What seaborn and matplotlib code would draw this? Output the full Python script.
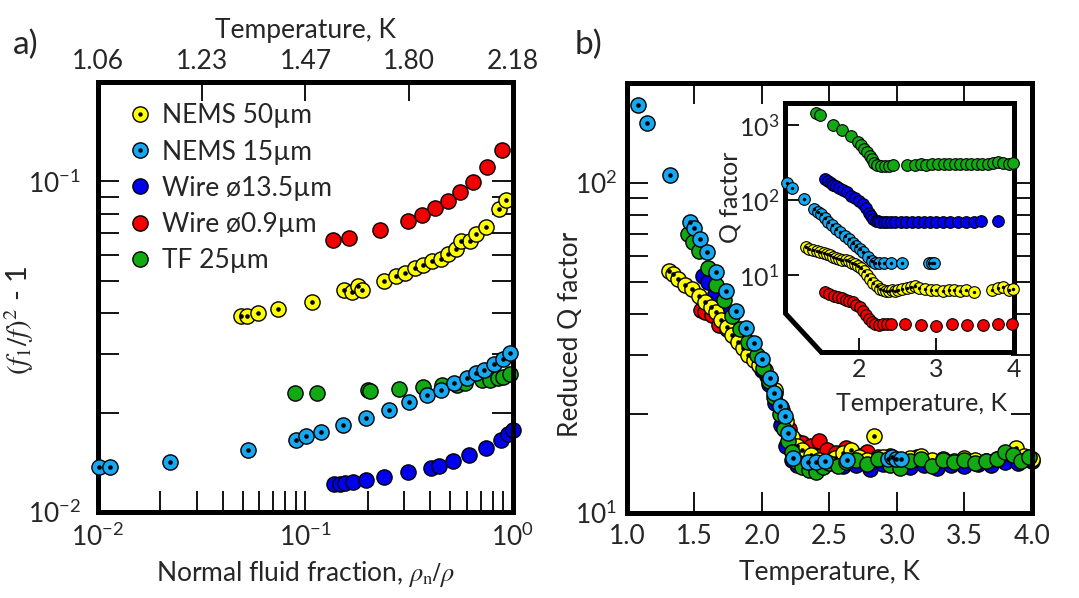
import matplotlib.pyplot as plt
import seaborn as sns
from matplotlib.lines import Line2D
from matplotlib.patches import Polygon
from matplotlib.ticker import LogLocator, NullFormatter, NullLocator, FixedLocator

# ---- panel a: (f1/f)^2 - 1 vs normal fluid fraction ----
a_n50_x = [0.049, 0.052, 0.059, 0.074, 0.107, 0.153, 0.167, 0.179, 0.187, 0.239, 0.273, 0.302,
           0.337, 0.367, 0.406, 0.448, 0.484, 0.529, 0.562, 0.621, 0.663, 0.741, 0.856, 0.925]
a_n50_y = [0.0392, 0.0392, 0.0400, 0.0411, 0.0432, 0.0471, 0.0464, 0.0484, 0.0470, 0.0500, 0.0519, 0.0529,
           0.0547, 0.0557, 0.0573, 0.0581, 0.0604, 0.0623, 0.0659, 0.0659, 0.0692, 0.0728, 0.0828, 0.0877]
a_n15_x = [0.0101, 0.0114, 0.0222, 0.0528, 0.0903, 0.1002, 0.1188, 0.152, 0.196, 0.253, 0.314, 0.385,
           0.448, 0.520, 0.600, 0.663, 0.727, 0.807, 0.898, 0.967]
a_n15_y = [0.01364, 0.0137, 0.01412, 0.01536, 0.01655, 0.01694, 0.01742, 0.01834, 0.01927, 0.02042, 0.02149,
           0.02252, 0.02337, 0.0246, 0.0255, 0.0264, 0.0269, 0.0280, 0.0291, 0.0302]
a_w135_x = [0.1376, 0.1466, 0.155, 0.170, 0.195, 0.238, 0.311, 0.403, 0.441, 0.516, 0.615, 0.741, 0.875, 0.949, 0.995]
a_w135_y = [0.01214, 0.01219, 0.01228, 0.01236, 0.01251, 0.01277, 0.01317, 0.01358, 0.0138, 0.01429, 0.01487,
            0.01562, 0.01655, 0.01722, 0.01775]
a_w09_x = [0.135, 0.162, 0.229, 0.313, 0.364, 0.421, 0.484, 0.556, 0.641, 0.746, 0.881]
a_w09_y = [0.0663, 0.0673, 0.0714, 0.0759, 0.0793, 0.0830, 0.0871, 0.0928, 0.0995, 0.111, 0.1245]
a_tf_x = [0.0890, 0.1132, 0.2008, 0.205, 0.283, 0.367, 0.453, 0.535, 0.587, 0.707, 0.775, 0.850, 0.898, 0.967]
a_tf_y = [0.02284, 0.02295, 0.02332, 0.0233, 0.02349, 0.02393, 0.02415, 0.0243, 0.0245, 0.02506, 0.02506,
          0.0255, 0.02567, 0.02609]

top_fraction = [0.01, 0.0316, 0.1, 0.316, 1.0]
top_temps = ['1.06', '1.23', '1.47', '1.80', '2.18']

# ---- panel b: reduced Q factor vs temperature ----
b_n15_t = [1.08, 1.15, 1.32, 1.47, 1.50, 1.54, 1.59, 1.66, 1.73, 1.81, 1.88, 1.94, 2.00, 2.06, 2.09, 2.13,
           2.17, 2.19, 2.23, 2.34, 2.40, 2.47, 2.63, 2.93, 2.96, 2.99, 3.03]
b_n15_q = [171, 151, 105, 76, 73, 67.5, 61.5, 53.6, 47.1, 40.9, 36.4, 32.6, 29.2, 25.6, 23.1, 21.1,
           19.6, 17.5, 14.7, 14.3, 14.3, 14.4, 14.5, 14.6, 14.8, 14.6, 14.6]
b_n50_t = [1.31, 1.34, 1.38, 1.43, 1.48, 1.53, 1.58, 1.62, 1.66, 1.70, 1.74, 1.78, 1.82, 1.86, 1.90, 1.94,
           1.98, 2.02, 2.06, 2.10, 2.14, 2.18, 2.22, 2.26, 2.30, 2.36, 2.42, 2.48, 2.54, 2.60, 2.66, 2.72,
           2.78, 2.83, 2.90, 2.96, 3.02, 3.10, 3.18, 3.26, 3.34, 3.42, 3.50, 3.58, 3.66, 3.74, 3.82, 3.88,
           3.94, 4.00]
b_n50_q = [54, 53, 51, 49, 47.5, 45.5, 43.5, 42, 40.5, 38.5, 36.5, 34.5, 33, 31.5, 30, 29,
           28, 27, 25.5, 23.5, 21, 19, 17, 16, 15.5, 15, 14.5, 14.3, 14.7, 15.2, 15.5, 14.8,
           14.5, 17.1, 14.8, 14.5, 14.4, 14.7, 14.9, 14.5, 14.6, 14.4, 14.7, 14.5, 14.4, 14.6, 15.2, 15.7,
           14.9, 14.6]
b_tf_t = [1.45, 1.49, 1.53, 1.60, 1.66, 1.72, 1.78, 1.84, 1.90, 1.96, 2.01, 2.05, 2.09, 2.13, 2.16, 2.19,
          2.22, 2.26, 2.30, 2.35, 2.40, 2.45, 2.50, 2.56, 2.62, 2.70, 2.78, 2.86, 2.95, 3.02, 3.10, 3.18,
          3.26, 3.34, 3.42, 3.50, 3.58, 3.66, 3.74, 3.80, 3.86, 3.92, 3.98]
b_tf_q = [70, 66, 62, 55, 49, 44, 39.5, 36, 33, 30, 27.5, 25, 22.5, 20, 18, 16.5,
          15.3, 14.3, 13.8, 13.5, 13.3, 13.8, 14.2, 13.9, 14.3, 14.5, 14.1, 14.6, 14.0, 13.7, 14.4, 14.6,
          13.9, 14.5, 14.3, 14.5, 14.2, 14.4, 14.6, 15.3, 15.0, 14.4, 14.8]
b_w135_t = [1.56, 1.60, 1.65, 1.70, 1.76, 1.82, 1.88, 1.94, 2.00, 2.05, 2.10, 2.14, 2.18, 2.22, 2.26, 2.32,
            2.40, 2.50, 2.60, 2.70, 2.80, 2.90, 3.00, 3.10, 3.20, 3.30, 3.40, 3.50, 3.60, 3.70, 3.80, 3.90, 4.00]
b_w135_q = [52, 50, 46, 42, 38.5, 35, 32, 29.5, 27, 24.5, 21.5, 18.5, 16, 14.5, 14.0, 13.8,
            14.0, 14.2, 13.9, 14.0, 13.6, 14.1, 14.0, 13.8, 14.0, 13.7, 14.0, 13.9, 14.1, 14.0, 14.3, 14.2, 14.4]
b_w09_t = [1.55, 1.58, 1.63, 1.68, 1.74, 1.80, 1.86, 1.92, 1.98, 2.04, 2.10, 2.15, 2.20, 2.25, 2.30, 2.36,
           2.42, 2.48, 2.55, 2.62, 2.70, 2.78, 2.86, 2.95, 3.05, 3.15]
b_w09_q = [41, 40.5, 39.8, 37, 36, 34, 32, 30, 28, 26, 23, 20.5, 18, 16.5, 16.3, 16.0,
           16.5, 15.5, 15.2, 15.7, 15.0, 15.3, 14.8, 14.9, 14.5, 14.8]

# ---- inset: raw Q factor vs temperature ----
i_tf_t = [1.45, 1.50, 1.67, 1.79, 1.90, 1.99, 2.03, 2.07, 2.11, 2.14, 2.17, 2.20, 2.24, 2.29, 2.34, 2.39,
          2.44, 2.62, 2.72, 2.80, 2.87, 2.95, 3.02, 3.10, 3.16, 3.24, 3.31, 3.38, 3.45, 3.52, 3.59, 3.66,
          3.73, 3.80, 3.86, 3.93, 3.99]
i_tf_q = [1450, 1350, 1000, 860, 715, 600, 540, 480, 430, 390, 350, 315, 295, 285, 280, 285,
          290, 292, 290, 300, 295, 298, 303, 298, 305, 297, 300, 298, 302, 300, 305, 303,
          310, 325, 310, 305, 315]
i_w135_t = [1.56, 1.60, 1.64, 1.67, 1.71, 1.75, 1.80, 1.85, 1.90, 1.95, 2.00, 2.05, 2.09, 2.13, 2.16, 2.19,
            2.22, 2.25, 2.28, 2.32, 2.36, 2.41, 2.47, 2.54, 2.61, 2.68, 2.76, 2.84, 2.92, 3.00, 3.09, 3.18,
            3.28, 3.38, 3.48, 3.58, 3.80]
i_w135_q = [190, 178, 168, 160, 152, 145, 136, 126, 114, 105, 96, 88, 78, 68, 61, 56,
            53, 52, 51.5, 51.5, 51, 51, 51, 51, 51.5, 51, 51, 51.5, 51, 51.5, 51, 51.5,
            51, 51.5, 51.5, 52, 53]
i_n15_t = [1.07, 1.14, 1.30, 1.43, 1.48, 1.52, 1.57, 1.61, 1.66, 1.71, 1.76, 1.82, 1.87, 1.92, 1.97, 2.01,
           2.06, 2.12, 2.17, 2.21, 2.26, 2.33, 2.42, 2.56, 2.90, 2.94, 2.97]
i_n15_q = [168, 145, 104, 76, 70, 64, 57, 51, 46, 41, 37, 33, 30, 27, 24.5, 22,
           20, 17.5, 15.5, 14.6, 14.3, 14.4, 14.3, 14.5, 14.3, 14.3, 14.5]
i_n50_t = [1.32, 1.36, 1.41, 1.46, 1.50, 1.55, 1.59, 1.63, 1.67, 1.71, 1.75, 1.79, 1.83, 1.87, 1.91, 1.95,
           1.99, 2.03, 2.07, 2.11, 2.15, 2.19, 2.23, 2.27, 2.31, 2.35, 2.39, 2.43, 2.47, 2.51, 2.56, 2.62,
           2.67, 2.72, 2.78, 2.85, 2.93, 3.00, 3.08, 3.16, 3.23, 3.30, 3.38, 3.48, 3.72, 3.80, 3.86, 3.93, 3.99]
i_n50_q = [23.5, 22.5, 21.5, 20.8, 20.2, 19.5, 18.8, 18.2, 17.6, 17.0, 16.5, 16.0, 15.6, 15.2, 14.6, 13.9,
           13.2, 12.2, 11.2, 10.0, 8.9, 7.9, 7.1, 6.6, 6.3, 6.2, 6.1, 6.3, 6.2, 6.4, 6.6, 6.7,
           6.9, 7.2, 6.8, 6.5, 6.3, 6.4, 6.1, 6.4, 6.3, 6.2, 6.3, 6.0, 6.3, 6.8, 7.0, 6.4, 6.5]
i_w09_t = [1.56, 1.62, 1.68, 1.73, 1.78, 1.83, 1.88, 1.93, 1.97, 2.01, 2.05, 2.09, 2.13, 2.17, 2.21, 2.26,
           2.31, 2.36, 2.41, 2.60, 2.80, 3.00, 3.20, 3.40, 3.60, 3.80, 3.98]
i_w09_q = [5.9, 5.6, 5.3, 5.1, 4.9, 4.7, 4.5, 4.3, 4.0, 3.7, 3.3, 2.9, 2.6, 2.35, 2.2, 2.15,
           2.2, 2.2, 2.25, 2.2, 2.15, 2.1, 2.2, 2.15, 2.15, 2.2, 2.2]

labels = ['NEMS 50µm', 'NEMS 15µm', 'Wire ø13.5µm', 'Wire ø0.9µm', 'TF 25µm']
YEL, LBL, BLU, RED, GRN = '#ffff00', '#16a8f0', '#0000ee', '#f20000', '#12aa12'

sns.set_theme(style='ticks')
plt.rcParams['font.family'] = ['Lato', 'DejaVu Sans']
plt.rcParams['font.size'] = 18
plt.rcParams['axes.linewidth'] = 3.6

FS = 19
S_BIG, S_DOT = 120, 11


def pts(ax, x, y, color, dotted=False, s=S_BIG, sd=S_DOT, lw=1.0, z=2):
    sns.scatterplot(x=x, y=y, ax=ax, color=color, s=s, edgecolor='black', linewidth=lw,
                    legend=False, zorder=z, clip_on=False)
    if dotted:
        sns.scatterplot(x=x, y=y, ax=ax, color='black', s=sd, linewidth=0,
                        legend=False, zorder=z + 0.1, clip_on=False)


def style_log_y(ax):
    ax.yaxis.set_major_locator(LogLocator(base=10))
    ax.yaxis.set_minor_locator(LogLocator(base=10, subs=range(2, 10)))
    ax.yaxis.set_minor_formatter(NullFormatter())


fig = plt.figure(figsize=(10.79, 5.98), dpi=100)

# ================= panel a =================
axa = fig.add_axes([0.0908, 0.1438, 0.3846, 0.7191])
pts(axa, a_tf_x, a_tf_y, GRN)
pts(axa, a_w135_x, a_w135_y, BLU)
pts(axa, a_w09_x, a_w09_y, RED)
pts(axa, a_n50_x, a_n50_y, YEL, dotted=True)
pts(axa, a_n15_x, a_n15_y, LBL, dotted=True, z=3)
axa.set_xscale('log')
axa.set_yscale('log')
axa.set_xlim(0.01, 1.0)
axa.set_ylim(0.01, 0.2)
style_log_y(axa)
axa.xaxis.set_minor_locator(LogLocator(base=10, subs=range(2, 10)))
axa.xaxis.set_minor_formatter(NullFormatter())
axa.tick_params(which='both', direction='in', length=15, width=1.3, color='black',
                top=False, right=True, labelsize=FS, pad=8)
axa.tick_params(axis='y', which='both', pad=12)
axa.set_xlabel(r'Normal fluid fraction, $\rho_{\rm n}/\rho$', fontsize=FS, labelpad=6,
               math_fontfamily='stix')
axa.set_ylabel(r'$(f_1/f)^2$ - 1', fontsize=FS + 2, math_fontfamily='stix')
axa.yaxis.set_label_coords(-0.15, 0.447)
for sp in axa.spines.values():
    sp.set_color('black')

sec = axa.secondary_xaxis('top')
sec.set_xticks(top_fraction, labels=top_temps)
sec.xaxis.set_minor_locator(NullLocator())
sec.tick_params(direction='in', length=14, width=1.3, color='black', labelsize=FS, pad=6)
sec.spines['top'].set_visible(False)
sec.set_xlabel('Temperature, K', fontsize=FS, labelpad=8)

handles = []
for c, dotted in [(YEL, True), (LBL, True), (BLU, False), (RED, False), (GRN, False)]:
    h = Line2D([], [], ls='', marker='o', ms=11, markerfacecolor=c, markeredgecolor='black', mew=1.0)
    if dotted:
        d = Line2D([], [], ls='', marker='o', ms=3.2, markerfacecolor='black', markeredgecolor='black', mew=0)
        handles.append((h, d))
    else:
        handles.append(h)
axa.legend(handles, labels, loc='upper left', bbox_to_anchor=(0.075, 0.95), frameon=False,
           fontsize=FS, handlelength=0.8, handletextpad=0.45, labelspacing=0.42,
           borderpad=0, borderaxespad=0)

# ================= panel b =================
axb = fig.add_axes([0.5811, 0.1421, 0.3753, 0.7191])
pts(axb, b_w09_t, b_w09_q, RED)
pts(axb, b_w135_t, b_w135_q, BLU)
pts(axb, b_n50_t, b_n50_q, YEL, dotted=True)
pts(axb, b_tf_t, b_tf_q, GRN, z=2.5)
pts(axb, b_n15_t, b_n15_q, LBL, dotted=True, z=3)
axb.set_yscale('log')
axb.set_xlim(1.0, 4.0)
axb.set_ylim(10, 200)
style_log_y(axb)
axb.set_xticks([1.0, 1.5, 2.0, 2.5, 3.0, 3.5, 4.0])
axb.set_xticklabels(['1.0', '1.5', '2.0', '2.5', '3.0', '3.5', '4.0'])
axb.tick_params(which='both', direction='in', length=15, width=1.3, color='black',
                top=True, right=True, labelsize=FS, pad=8)
axb.tick_params(axis='y', which='both', pad=7)
axb.set_xlabel('Temperature, K', fontsize=FS, labelpad=8)
axb.set_ylabel('Reduced Q factor', fontsize=FS)
axb.yaxis.set_label_coords(-0.109, 0.416)
for sp in axb.spines.values():
    sp.set_color('black')

# ================= inset =================
axi = fig.add_axes([785 / 1079, 1 - 352 / 598, 229 / 1079, 249 / 598])
axi.set_facecolor('none')
for sp in axi.spines.values():
    sp.set_visible(False)
frame = Polygon([(0, 0.157), (0, 1), (1, 1), (1, 0), (0.157, 0)], closed=True,
                transform=axi.transAxes, facecolor='white', edgecolor='black', lw=3.6,
                zorder=0.5, clip_on=False, joinstyle='miter')
axi.add_patch(frame)
SI, SDI = 70, 6
pts(axi, i_w09_t, i_w09_q, RED, s=SI, lw=0.8)
pts(axi, i_n50_t, i_n50_q, YEL, dotted=True, s=SI, sd=SDI, lw=0.8)
pts(axi, i_n15_t, i_n15_q, LBL, dotted=True, s=SI, sd=SDI, lw=0.8)
pts(axi, i_w135_t, i_w135_q, BLU, s=SI, lw=0.8)
pts(axi, i_tf_t, i_tf_q, GRN, s=SI, lw=0.8)
axi.set_yscale('log')
axi.set_xlim(1.05, 4.0)
axi.set_ylim(0.94, 1960)
axi.yaxis.set_major_locator(FixedLocator([10, 100, 1000]))
axi.yaxis.set_minor_locator(NullLocator())
axi.set_xticks([2, 3, 4])
axi.set_xticklabels(['2', '3', '4'])
axi.tick_params(which='both', direction='in', length=10, width=1.3, color='black',
                labelsize=FS - 1, pad=4)
axi.set_xlabel('Temperature, K', fontsize=FS - 1, labelpad=2)
axi.xaxis.set_label_coords(0.598, -0.16)
fig.text(730 / 1079, 1 - 197 / 598, 'Q factor', rotation=90, ha='center', va='center',
         fontsize=FS - 1)

fig.text(0.012, 0.925, 'a)', fontsize=24, va='center', ha='left')
fig.text(0.533, 0.925, 'b)', fontsize=24, va='center', ha='left')

fig.savefig('out.png', dpi=100)
